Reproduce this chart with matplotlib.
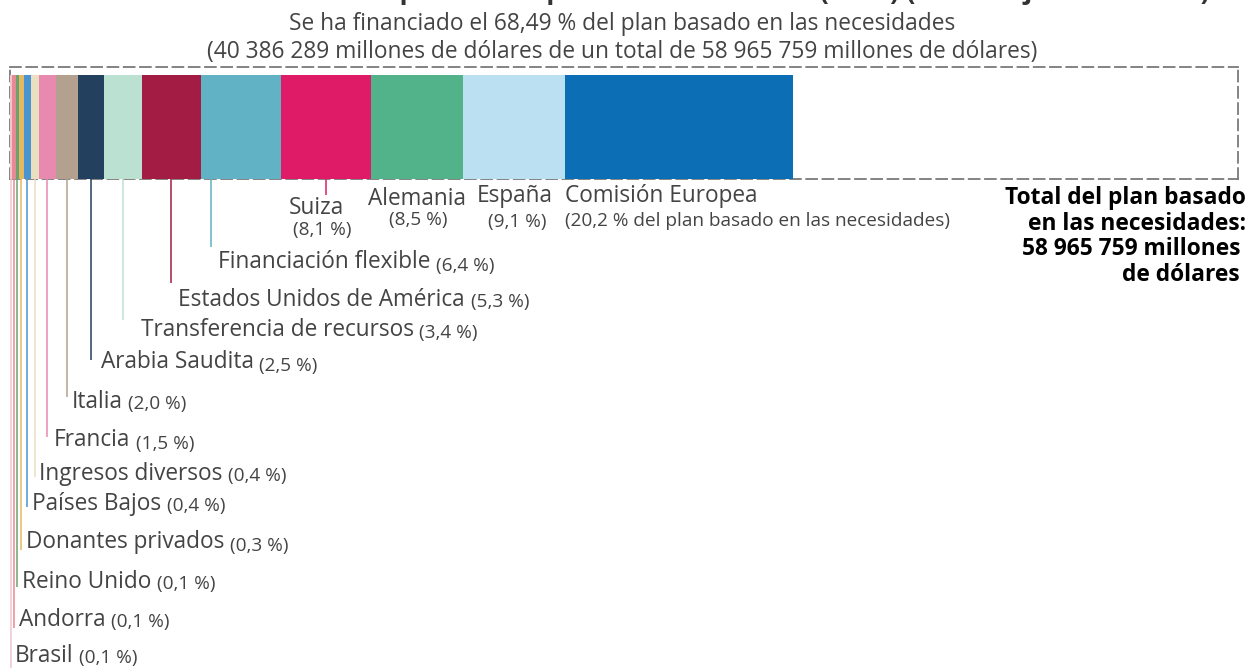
"""
Fuentes de financiación del plan basado en las necesidades
Barra apilada horizontal con etiquetas y líneas guía por donante
"""

import matplotlib
matplotlib.use('Agg')
import matplotlib.pyplot as plt
from matplotlib.transforms import blended_transform_factory

plt.rcParams['font.family'] = ['Open Sans', 'DejaVu Sans']

# ============================================================================
# DATOS
# ============================================================================

donantes = ['Brasil', 'Andorra', 'Reino Unido', 'Donantes privados', 'Países Bajos',
            'Ingresos diversos', 'Francia', 'Italia', 'Arabia Saudita',
            'Transferencia de recursos', 'Estados Unidos de América',
            'Financiación flexible', 'Suiza', 'Alemania', 'España', 'Comisión Europea']

# porcentaje que aparece en cada etiqueta
porcentajes = [0.1, 0.1, 0.1, 0.3, 0.4, 0.4, 1.5, 2.0, 2.5, 3.4, 5.3, 6.4, 8.1, 8.5, 9.1, 20.2]

# ancho de cada segmento (% del plan)
anchos = [0.15, 0.35, 0.26, 0.44, 0.6, 0.7, 1.5, 1.9, 2.3, 3.3, 5.2, 7.0, 7.8, 8.1, 8.9, 19.9]

colores = ['#F3C3CF', '#E68A93', '#6BA36F', '#E5B862', '#4A94CF', '#EADFC0', '#E889B0',
           '#B3A08E', '#23405E', '#BBE1D3', '#A21C43', '#60B2C4', '#DF1B68', '#52B38A',
           '#BAE0F2', '#0C6FB5']

titulo = 'Fuentes de financiación del plan de respuesta humanitaria (2024) (al 30 de junio de 2024)'
porcentaje_financiado = '68,49'
monto_financiado = '40 386 289'
total_plan = '58 965 759'

# ============================================================================
# DISPOSICIÓN (en píxeles de la imagen final)
# ============================================================================

W, H = 1248, 668
GRIS = '#444444'
T_NOMBRE = 16.3
T_PCT = 13.7
AJUSTE_Y = 2.5  # va='center' incluye el descendente; se baja un poco el texto

# etiquetas con línea guía: (fin de la línea y, desplazamiento x del texto, centro y del texto)
guias = [(668, 4, 653), (628, 5, 617), (587, 5, 579), (550, 5, 540), (507, 5, 501),
         (477, 4, 471), (437, 7, 438), (397, 5, 399), (360, 10, 360), (320, 18, 327),
         (283, 7, 297), (247, 7, 260)]

# etiquetas bajo la barra: (fin de línea o None, ha, dx nombre, y nombre, dx %, y %)
centrales = [(195, 'center', -10, 206, -4, 228),
             (None, 'center', 0, 197, 1, 218),
             (None, 'center', 0, 194, 3, 219),
             (None, 'left', 0, 193, 0, 218)]


def fy(py):
    """Convierte una coordenada y en píxeles (desde arriba) a fracción de figura."""
    return 1 - py / H


def ft(py):
    """Igual que fy, pero para el centro de un texto."""
    return fy(py + AJUSTE_Y)


def texto_pct(v):
    return f'({v:.1f} %)'.replace('.', ',')


# ============================================================================
# GRÁFICO
# ============================================================================

def main():
    fig = plt.figure(figsize=(W / 100, H / 100), dpi=100)
    ax = fig.add_axes([10 / W, fy(179), 1228 / W, 112 / H])
    escala = 783 / sum(anchos)  # píxeles por punto porcentual

    izquierdas = []
    acum = 0
    for a in anchos:
        izquierdas.append(acum)
        acum += a

    ax.barh([0] * len(anchos), anchos, left=izquierdas, height=104 / 112, align='edge',
            color=colores, linewidth=0, zorder=2)

    # marco discontinuo = total del plan
    for s in ax.spines.values():
        s.set_linestyle((0, (6, 3)))
        s.set_color('#7a7a7a')
        s.set_linewidth(1.3)
        s.set_zorder(1)
    ax.set_xticks([])
    ax.set_yticks([])

    trans = blended_transform_factory(ax.transData, fig.transFigure)

    # etiquetas con línea guía
    for i, (y_fin, dx, ty) in enumerate(guias):
        frac = 0.12 if donantes[i] == 'Financiación flexible' else 0.5
        xc = izquierdas[i] + anchos[i] * frac
        ax.plot([xc, xc], [fy(179), fy(y_fin)], transform=trans, color=colores[i],
                lw=1.1, clip_on=False, solid_capstyle='butt')
        t = ax.annotate(donantes[i], xy=(xc, ft(ty)), xycoords=trans,
                        xytext=(dx * 0.72, 0), textcoords='offset points',
                        ha='left', va='center', fontsize=T_NOMBRE, color=GRIS,
                        annotation_clip=False)
        ax.annotate(texto_pct(porcentajes[i]), xy=(1, 0), xycoords=t,
                    xytext=(4, 0), textcoords='offset points',
                    ha='left', va='bottom', fontsize=T_PCT, color=GRIS)

    # etiquetas de los segmentos grandes
    for j, (y_fin, ha, dxn, yn, dxp, yp) in enumerate(centrales):
        i = len(guias) + j
        xc = izquierdas[i] if ha == 'left' else izquierdas[i] + anchos[i] / 2
        if y_fin is not None:
            ax.plot([xc, xc], [fy(179), fy(y_fin)], transform=trans, color=colores[i],
                    lw=1.1, clip_on=False, solid_capstyle='butt')
        ax.annotate(donantes[i], xy=(xc, ft(yn)), xycoords=trans,
                    xytext=(dxn * 0.72, 0), textcoords='offset points',
                    ha=ha, va='center', fontsize=T_NOMBRE, color=GRIS, annotation_clip=False)
        pct = texto_pct(porcentajes[i])
        if donantes[i] == 'Comisión Europea':
            pct = pct[:-1] + ' del plan basado en las necesidades)'
        ax.annotate(pct, xy=(xc, ft(yp)), xycoords=trans,
                    xytext=(dxp * 0.72, 0), textcoords='offset points',
                    ha=ha, va='center', fontsize=T_PCT, color=GRIS, annotation_clip=False)

    ax.set_xlim(0, 1228 / escala)
    ax.set_ylim(0, 1)

    # títulos (el título principal queda casi fuera del recorte, como en el original)
    fig.text(618 / W, fy(-1), titulo, ha='center', va='baseline', fontsize=19.3,
             fontweight='bold', color='#333333')
    fig.text(622 / W, ft(22),
             f'Se ha financiado el {porcentaje_financiado} % del plan basado en las necesidades',
             ha='center', va='center', fontsize=16.4, color=GRIS)
    fig.text(622 / W, ft(49),
             f'({monto_financiado} millones de dólares de un total de {total_plan} millones de dólares)',
             ha='center', va='center', fontsize=16.4, color=GRIS)

    fig.text(1246 / W, ft(234),
             f'Total del plan basado\nen las necesidades:\n{total_plan} millones \nde dólares ',
             ha='right', va='center', multialignment='right', fontsize=16.4,
             fontweight='bold', color='black', linespacing=1.1)

    fig.savefig('out.png', dpi=100)
    plt.close(fig)


if __name__ == '__main__':
    main()
